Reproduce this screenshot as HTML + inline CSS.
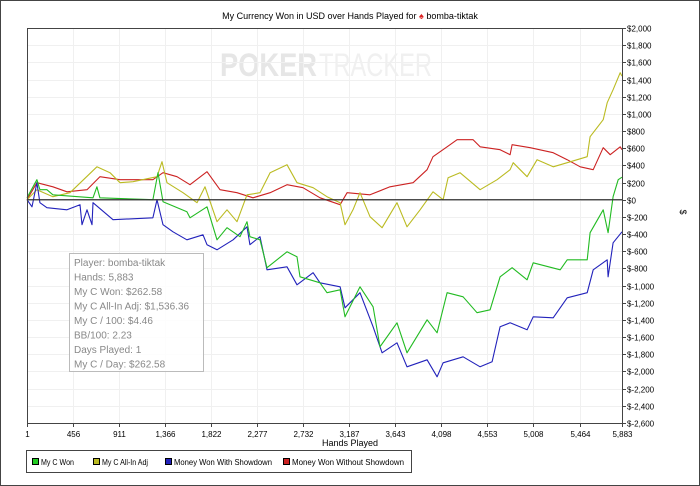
<!DOCTYPE html>
<html><head><meta charset="utf-8"><style>
body{margin:0;background:#fff;}
svg{display:block;font-family:"Liberation Sans",sans-serif;}
</style></head><body>
<svg id="chart" width="700" height="486">
<rect x="0.5" y="0.5" width="699" height="485" fill="#fff" stroke="#444"/>
<text x="350" y="19" font-size="9" text-anchor="middle" fill="#000">My Currency Won in USD over Hands Played for <tspan fill="#d22">♠</tspan> bomba-tiktak</text>
<g>
<text x="220" y="76" font-size="32" font-weight="bold" fill="#e6e6e6" textLength="97" lengthAdjust="spacingAndGlyphs">POKER</text>
<text x="319" y="76" font-size="32" fill="#f0f0f0" textLength="113" lengthAdjust="spacingAndGlyphs">TRACKER</text>
</g>
<g id="grid"></g>
<g id="lines"></g>
<g id="axes"></g>
<g>
<rect x="69.5" y="253.5" width="134" height="118" fill="#fff" fill-opacity="0.85" stroke="#bbb"/>
<g font-size="10" fill="#888">
<text x="74" y="266">Player: bomba-tiktak</text>
<text x="74" y="280.5">Hands: 5,883</text>
<text x="74" y="295">My C Won: $262.58</text>
<text x="74" y="309.5">My C All-In Adj: $1,536.36</text>
<text x="74" y="324">My C / 100: $4.46</text>
<text x="74" y="338.5">BB/100: 2.23</text>
<text x="74" y="353">Days Played: 1</text>
<text x="74" y="367.5">My C / Day: $262.58</text>
</g></g>
<text x="350" y="446" font-size="9" text-anchor="middle">Hands Played</text>
<text x="0" y="0" font-size="9" text-anchor="middle" transform="translate(680,212) rotate(90)">$</text>
<g>
<rect x="26.5" y="450.5" width="385" height="22" fill="#fff" stroke="#444"/>
<g font-size="8">
<rect x="32.5" y="458.5" width="6" height="6" fill="#2c2" stroke="#000"/><text x="41" y="465" textLength="33" lengthAdjust="spacingAndGlyphs">My C Won</text>
<rect x="93.5" y="458.5" width="6" height="6" fill="#bb2" stroke="#000"/><text x="102" y="465" textLength="46" lengthAdjust="spacingAndGlyphs">My C All-In Adj</text>
<rect x="165.5" y="458.5" width="6" height="6" fill="#22b" stroke="#000"/><text x="174" y="465" textLength="98" lengthAdjust="spacingAndGlyphs">Money Won With Showdown</text>
<rect x="283.5" y="458.5" width="6" height="6" fill="#c22" stroke="#000"/><text x="292" y="465" textLength="112" lengthAdjust="spacingAndGlyphs">Money Won Without Showdown</text>
</g></g>
</svg>
<script>
const xTickLabels=[1,456,911,1366,1822,2277,2732,3187,3643,4098,4553,5008,5464,5883];
const yTickValues=[2000,1800,1600,1400,1200,1000,800,600,400,200,0,-200,-400,-600,-800,-1000,-1200,-1400,-1600,-1800,-2000,-2200,-2400,-2600];
const wonHands=[1,99,129,198,257,653,692,722,1246,1296,1345,1582,1612,1780,1879,1978,2107,2176,2205,2304,2374,2571,2670,2700,2898,2967,3096,3145,3293,3422,3491,3659,3758,3956,4055,4154,4312,4450,4579,4678,4797,4945,5005,5272,5341,5539,5568,5697,5746,5795,5845,5883];
const wonValues=[23,233,117,117,58,23,151,23,0,315,-23,-140,-210,-82,-466,-326,-431,-256,-431,-466,-792,-606,-664,-897,-967,-1083,-1049,-1363,-1014,-1247,-1713,-1433,-1783,-1398,-1550,-1083,-1130,-1316,-1282,-897,-792,-932,-734,-816,-699,-699,-384,-117,-384,35,233,263];
const allinHands=[1,99,257,426,692,822,920,1049,1286,1336,1385,1543,1682,1761,1879,1978,2077,2176,2304,2404,2571,2670,2829,2967,3096,3145,3224,3293,3392,3511,3659,3758,3887,4015,4114,4164,4282,4480,4648,4777,4807,4945,5044,5203,5341,5539,5568,5697,5737,5795,5865,5883];
const allinValues=[0,117,35,82,384,315,198,210,268,443,198,82,-35,151,-256,-117,-256,58,82,315,408,198,140,35,-35,-291,-117,82,-198,-326,-35,-315,-117,93,0,256,315,117,233,350,431,268,466,384,431,501,734,932,1130,1282,1480,1440];
const sdHands=[1,50,99,129,198,396,525,545,594,644,653,851,1246,1286,1345,1444,1582,1741,1780,1879,2038,2176,2205,2304,2374,2571,2670,2829,2898,3096,3145,3293,3422,3511,3659,3758,3956,4055,4114,4312,4480,4599,4678,4777,4945,5005,5203,5341,5539,5598,5737,5746,5795,5883];
const sdValues=[0,-82,198,-35,-93,-117,-58,-291,-117,-291,-35,-233,-210,0,-291,-373,-466,-408,-524,-583,-466,-315,-524,-431,-816,-781,-990,-850,-967,-1014,-1258,-1083,-1480,-1782,-1666,-1946,-1864,-2062,-1899,-1829,-1946,-1887,-1480,-1433,-1515,-1363,-1375,-1142,-1083,-816,-699,-897,-501,-373];
const nsdHands=[1,99,257,396,594,722,920,1246,1345,1484,1612,1780,1909,2077,2235,2404,2571,2729,2898,3096,3165,3392,3590,3818,3956,4015,4154,4253,4411,4480,4678,4777,4797,4975,5203,5341,5470,5598,5697,5766,5865,5883];
const nsdValues=[0,198,151,93,117,268,233,233,315,268,175,326,117,82,23,82,175,140,23,-58,82,58,151,198,350,501,617,699,699,617,583,524,641,606,548,466,384,350,606,524,617,583];

const L=27,R=622,T=28,B=423,HMIN=1,HMAX=5883,VMAX=2000,VMIN=-2600;
const xS=h=>L+(h-HMIN)/(HMAX-HMIN)*(R-L);
const yS=v=>T+(VMAX-v)/(VMAX-VMIN)*(B-T);
const NS='http://www.w3.org/2000/svg';
function mk(tag,attrs,parent){const e=document.createElementNS(NS,tag);for(const k in attrs)e.setAttribute(k,attrs[k]);parent.appendChild(e);return e;}
const grid=document.getElementById('grid'),axes=document.getElementById('axes'),lines=document.getElementById('lines');
yTickValues.forEach(v=>{
  const y=Math.round(yS(v))+0.5;
  const g=mk('line',{x1:L,x2:R,y1:y,y2:y,stroke:'#f0f0f0'},grid);
  
  
  mk('line',{x1:R,x2:R+4,y1:y,y2:y,stroke:'#444'},axes);
  const t=mk('text',{x:R+5,y:y+3,'font-size':'8',fill:'#000'},axes);
  t.textContent=(v<0?'$-':'$')+Math.abs(v).toLocaleString('en-US');
  
  
});
xTickLabels.forEach(h=>{
  const x=Math.round(xS(h))+0.5;
  const g=mk('line',{x1:x,x2:x,y1:T,y2:B,stroke:'#f0f0f0'},grid);
  
  
  mk('line',{x1:x,x2:x,y1:B,y2:B+4,stroke:'#444'},axes);
  const t=mk('text',{x:x,y:B+14,'font-size':'8','text-anchor':'middle'},axes);
  t.textContent=h.toLocaleString('en-US');
  
  
});
const frame=mk('path',{d:`M${L+0.5},${B+0.5}V${T+0.5}H${R+0.5}V${B+0.5}H${L+0.5}`,fill:'none',stroke:'#444'},axes);


const zl=mk('line',{x1:L,x2:R,y1:yS(0),y2:yS(0),stroke:'#333','stroke-width':'1.3'},axes);


function series(hs,vs,color,name){
  const pts=hs.map((h,i)=>xS(h).toFixed(1)+','+yS(vs[i]).toFixed(1)).join(' ');
  const p=mk('polyline',{points:pts,fill:'none',stroke:color,'stroke-width':'1.1','stroke-linejoin':'round'},lines);
  
  
}
series(nsdHands,nsdValues,'#c22','line-won-without-showdown');
series(allinHands,allinValues,'#bb2','line-all-in-adj');
series(sdHands,sdValues,'#22b','line-won-with-showdown');
series(wonHands,wonValues,'#2b2','line-my-c-won');
</script>
</body></html>
